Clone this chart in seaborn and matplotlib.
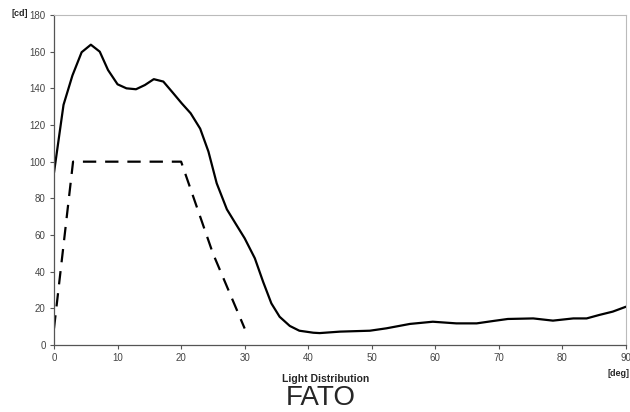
import matplotlib
matplotlib.use('Agg')
import matplotlib.pyplot as plt
import numpy as np
import pandas as pd
import seaborn as sns

# measured curve (solid)
meas_deg = [0, 1.5, 2.9, 4.35, 5.8, 7.2, 8.5, 10.0, 11.4, 12.9, 14.3, 15.7, 17.2,
            18.7, 20.1, 21.5, 23.0, 24.3, 25.6, 27.2, 28.7, 30.0, 31.6, 32.9, 34.2,
            35.5, 37.1, 38.6, 40.8, 41.8, 45.0, 49.7, 52.3, 56.0, 59.6, 63.3, 66.5,
            69.1, 71.4, 75.4, 78.5, 81.7, 83.8, 85.8, 87.9, 90.0]
meas_cd = [94, 131, 147, 159.7, 163.8, 160, 150, 142.2, 140, 139.5, 141.8, 145, 143.7,
           137.6, 131.8, 126.4, 118, 105.5, 88.2, 74, 65.5, 58.2, 47.3, 34.5, 22.7,
           15.4, 10.4, 7.8, 6.7, 6.5, 7.3, 7.8, 9.1, 11.5, 12.7, 11.8, 11.8,
           13.1, 14.2, 14.5, 13.3, 14.5, 14.5, 16.4, 18.2, 20.9]

# requirement curve (dashed)
req_deg = [0, 3, 20, 25, 30]
req_cd = [9, 100, 100, 50, 9]

x_ticks = list(range(0, 91, 10))
y_ticks = list(range(0, 181, 20))

sns.set_style('white')
plt.rcParams['font.family'] = ['Liberation Sans', 'DejaVu Sans']

fig = plt.figure(figsize=(6.3, 4.12), dpi=100)
ax = fig.add_axes([0.0857, 0.1626, 0.908, 0.801])

df_meas = pd.DataFrame({'deg': meas_deg, 'cd': meas_cd})
df_req = pd.DataFrame({'deg': req_deg, 'cd': req_cd})
sns.lineplot(data=df_meas, x='deg', y='cd', ax=ax, color='black', linewidth=1.6)
sns.lineplot(data=df_req, x='deg', y='cd', ax=ax, color='black', linewidth=1.6,
             dashes=False, linestyle=(0, (6, 4)))

ax.set_xlim(0, 90)
ax.set_ylim(0, 180)
ax.set_xticks(x_ticks)
ax.set_yticks(y_ticks)
ax.set_xlabel('')
ax.set_ylabel('')
ax.tick_params(axis='both', direction='out', length=3, width=0.8, color='#555555',
               labelsize=7, labelcolor='#444444', pad=3)
ax.tick_params(axis='both', bottom=True, left=True)
for side in ['left', 'bottom']:
    ax.spines[side].set_color('#555555')
    ax.spines[side].set_linewidth(0.9)
for side in ['top', 'right']:
    ax.spines[side].set_color('#bbbbbb')
    ax.spines[side].set_linewidth(0.8)

fig.text(20 / 630, 1 - 14 / 412, '[cd]', fontsize=6.5, fontweight='bold', ha='center', va='center')
fig.text(619 / 630, 1 - 373 / 412, '[deg]', fontsize=6.5, fontweight='bold', ha='center', va='center')
fig.text(326 / 630, 1 - 379 / 412, 'Light Distribution', fontsize=7.5, fontweight='bold',
         ha='center', va='center')
fig.text(321 / 630, 1 / 412, 'FATO', fontsize=20, ha='center', va='bottom')

fig.savefig('out.png', dpi=100)
